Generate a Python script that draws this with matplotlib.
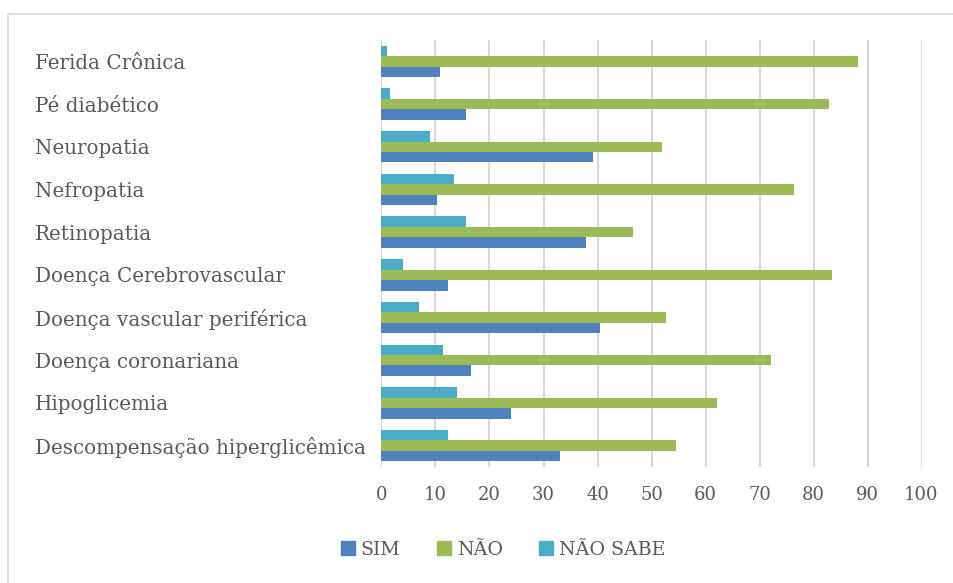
import matplotlib
matplotlib.use("Agg")
import matplotlib.pyplot as plt
import matplotlib.patches as mpatches
import numpy as np

# categories, listed top to bottom as in the chart
categories = ["Ferida Crônica", "Pé diabético", "Neuropatia", "Nefropatia",
              "Retinopatia", "Doença Cerebrovascular", "Doença vascular periférica",
              "Doença coronariana", "Hipoglicemia", "Descompensação hiperglicêmica"]
sim      = [10.8, 15.6, 39.1, 10.2, 37.9, 12.4, 40.5, 16.5, 23.9, 33.1]
nao      = [88.3, 82.9, 52.0, 76.4, 46.5, 83.5, 52.6, 72.1, 62.2, 54.5]
nao_sabe = [1.0, 1.6, 8.9, 13.4, 15.6, 4.0, 7.0, 11.4, 14.0, 12.4]
series_names = ["SIM", "NÃO", "NÃO SABE"]
xticks = [0, 10, 20, 30, 40, 50, 60, 70, 80, 90, 100]

colors = ["#4F81BD", "#9BBB59", "#4BACC6"]
txt = "#595959"
plt.rcParams["font.family"] = ["DejaVu Serif"]

W, H = 954, 583
fig = plt.figure(figsize=(W / 100, H / 100), dpi=100)
ax = fig.add_axes([381.5 / W, 1 - 467 / H, 540 / W, 427 / H])

n = len(categories)
y = np.arange(n)[::-1]  # first category at top
bh = 0.245
ax.barh(y - bh, sim, height=bh, color=colors[0], zorder=3)
ax.barh(y, nao, height=bh, color=colors[1], zorder=3)
ax.barh(y + bh, nao_sabe, height=bh, color=colors[2], zorder=3)

ax.set_xlim(0, 100)
ax.set_ylim(-0.5, n - 0.5)
ax.set_xticks(xticks)
ax.set_xticklabels([str(t) for t in xticks], fontsize=13, color=txt)
ax.set_yticks(y)
ax.set_yticklabels(categories, fontsize=14.3, color=txt, ha="left")
ax.tick_params(axis="y", length=0, pad=(381.5 - 35) * 0.72)
ax.tick_params(axis="x", length=0, pad=14)
ax.xaxis.grid(True, color="#D9D9D9", linewidth=1.5, zorder=0)
for s in ax.spines.values():
    s.set_visible(False)
ax.axvline(0, color="#D9D9D9", linewidth=1.2, zorder=2)

handles = [mpatches.Patch(color=c, label=l) for c, l in zip(colors, series_names)]
fig.legend(handles=handles, loc="center", bbox_to_anchor=(503 / W, 1 - 550 / H),
           ncol=3, frameon=False, fontsize=13.7, labelcolor=txt,
           handlelength=0.75, handleheight=0.75, handletextpad=0.3, columnspacing=1.9)

# outer chart frame
fig.add_artist(mpatches.Rectangle((8.5 / W, -0.1), 1.2, 1 - 14 / H + 0.1,
                                  transform=fig.transFigure, fill=False,
                                  edgecolor="#D9D9D9", linewidth=1.2))

fig.savefig("out.png", dpi=100)
